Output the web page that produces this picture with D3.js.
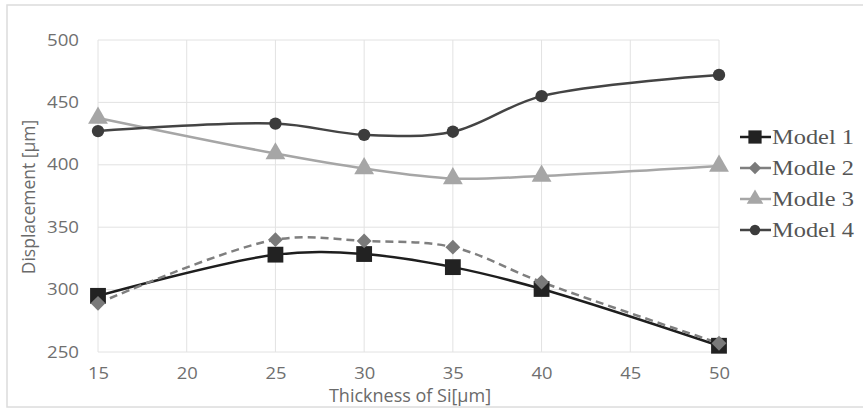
<!DOCTYPE html>
<html>
<head>
<meta charset="utf-8">
<script src="https://cdn.jsdelivr.net/npm/d3@7"></script>
<style>
  body { margin: 0; background: #fff; }
  svg { display: block; }
</style>
</head>
<body>
<div id="chart"></div>
<script>
// data
const thickness = [15, 25, 30, 35, 40, 50];
const model1 = [295, 328, 328.5, 318, 300.5, 255];
const modle2 = [289, 340, 339, 334, 306, 257];
const modle3 = [437.5, 409, 397, 389, 391, 399];
const model4 = [427, 433, 424, 426.5, 455, 472];
const seriesNames = ["Model 1", "Modle 2", "Modle 3", "Model 4"];
const xTicks = [15, 20, 25, 30, 35, 40, 45, 50];
const yTicks = [250, 300, 350, 400, 450, 500];

width = 863;
height = 410;
margin = ({top: 40, right: 144, bottom: 58, left: 98});
plotW = width - margin.left - margin.right;
plotH = height - margin.top - margin.bottom;

const series = [
  {name: seriesNames[0], values: model1, color: "#222222", stroke: "#1e1e1e", dash: null, symbol: d3.symbolSquare, size: 250, rot: 0},
  {name: seriesNames[1], values: modle2, color: "#7a7a7a", stroke: "#7f7f7f", dash: "8,5", symbol: d3.symbolSquare, size: 110, rot: 45},
  {name: seriesNames[2], values: modle3, color: "#a6a6a6", stroke: "#a6a6a6", dash: null, symbol: d3.symbolTriangle, size: 170, rot: 0},
  {name: seriesNames[3], values: model4, color: "#3c3c3c", stroke: "#444444", dash: null, symbol: d3.symbolCircle, size: 120, rot: 0}
];

const svg = d3.select("#chart").append("svg")
  .attr("width", width)
  .attr("height", height);

// outer frame
svg.append("rect")
  .attr("x", 7).attr("y", 5)
  .attr("width", 870).attr("height", 402)
  .attr("fill", "none")
  .attr("stroke", "#dcdcdc")
  .attr("stroke-width", 1.5);

const g = svg.append("g")
  .attr("transform", `translate(${margin.left},${margin.top})`);

const x = d3.scaleLinear().domain([15, 50]).range([0, plotW]);
const y = d3.scaleLinear().domain([250, 500]).range([plotH, 0]);

// grid
g.append("g")
  .selectAll("line")
  .data(yTicks)
  .join("line")
  .attr("x1", 0).attr("x2", plotW)
  .attr("y1", d => y(d)).attr("y2", d => y(d))
  .attr("stroke", "#e2e2e2");
g.append("g")
  .selectAll("line")
  .data(xTicks)
  .join("line")
  .attr("y1", 0).attr("y2", plotH)
  .attr("x1", d => x(d)).attr("x2", d => x(d))
  .attr("stroke", "#e2e2e2");

// axes (labels only)
const yAxis = g.append("g")
  .call(d3.axisLeft(y).tickValues(yTicks).tickSize(0).tickPadding(19));
const xAxis = g.append("g")
  .attr("transform", `translate(0,${plotH})`)
  .call(d3.axisBottom(x).tickValues(xTicks).tickSize(0).tickPadding(17));
[yAxis, xAxis].forEach(a => {
  a.select(".domain").remove();
  a.selectAll("text")
    .attr("font-family", "Open Sans, sans-serif")
    .attr("font-size", "16px")
    .attr("fill", "#6f6f6f");
});
yAxis.selectAll("text").attr("textLength", 32).attr("lengthAdjust", "spacingAndGlyphs");
xAxis.selectAll("text").attr("dy", "0.62em")
  .attr("textLength", 21).attr("lengthAdjust", "spacingAndGlyphs");

// axis titles
svg.append("text")
  .text("Thickness of Si[μm]")
  .attr("x", 410).attr("y", 402)
  .attr("text-anchor", "middle")
  .attr("font-family", "Open Sans, sans-serif")
  .attr("font-size", "18px")
  .attr("fill", "#6a6a6a");
svg.append("text")
  .text("Displacement [μm]")
  .attr("transform", "translate(35,197) rotate(-90)")
  .attr("text-anchor", "middle")
  .attr("font-family", "Open Sans, sans-serif")
  .attr("font-size", "17.5px")
  .attr("fill", "#6a6a6a");

// lines
const line = d3.line()
  .x((d, i) => x(thickness[i]))
  .y(d => y(d))
  .curve(d3.curveCatmullRom);

series.forEach(s => {
  g.append("path")
    .datum(s.values)
    .attr("d", line)
    .attr("fill", "none")
    .attr("stroke", s.stroke)
    .attr("stroke-width", 2.5)
    .attr("stroke-dasharray", s.dash);
});

// markers drawn after lines
series.forEach(s => {
  g.append("g")
    .selectAll("path")
    .data(s.values)
    .join("path")
    .attr("transform", (d, i) => `translate(${x(thickness[i])},${y(d)}) rotate(${s.rot})`)
    .attr("d", d3.symbol().type(s.symbol).size(s.size))
    .attr("fill", s.color);
});

// legend
const legend = svg.append("g")
  .attr("transform", "translate(740,137)");
const item = legend.selectAll("g")
  .data(series)
  .join("g")
  .attr("transform", (d, i) => `translate(0,${i * 31})`);
item.append("line")
  .attr("x1", 0).attr("x2", 31)
  .attr("stroke", d => d.stroke)
  .attr("stroke-width", 2.5);
item.append("path")
  .attr("transform", d => `translate(15,0) rotate(${d.rot})`)
  .attr("d", d => d3.symbol().type(d.symbol).size(d.size * 0.7)())
  .attr("fill", d => d.color);
item.append("text")
  .text(d => d.name)
  .attr("x", 32)
  .attr("y", 7)
  .attr("textLength", 82)
  .attr("lengthAdjust", "spacingAndGlyphs")
  .attr("font-family", "Liberation Serif, serif")
  .attr("font-size", "21px")
  .attr("fill", "#555555");
</script>
</body>
</html>
